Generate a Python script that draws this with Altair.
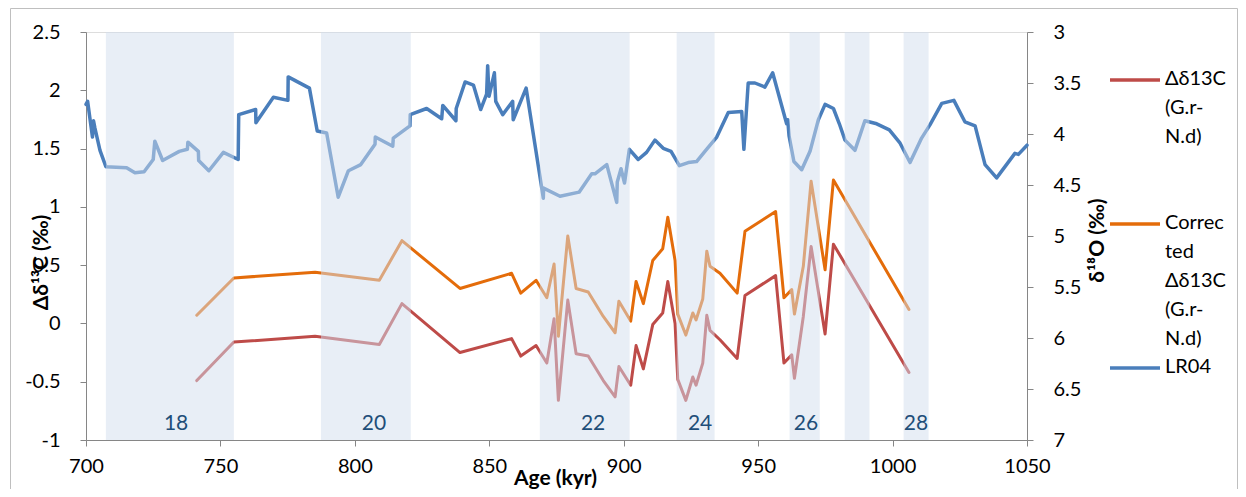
import altair as alt
import pandas as pd

# ---------------- data ----------------
# LR04 benthic d18O stack (right axis, reversed)
lr04_age = [700.0, 700.6, 702.4, 702.8, 703.3, 705.2, 707.4, 715.1, 718.2, 721.6,
            725.0, 725.6, 728.5, 731.2, 734.7, 737.7, 737.9, 741.8, 741.9, 745.7,
            751.1, 756.6, 756.8, 763.1, 763.2, 769.7, 775.1, 775.2, 783.1, 786.0,
            789.5, 793.8, 797.6, 802.2, 807.5, 807.6, 814.1, 814.3, 820.5, 820.6,
            826.7, 832.3, 832.7, 837.6, 837.7, 841.0, 844.1, 846.8, 849.0, 849.4,
            849.9, 851.9, 852.4, 855.0, 858.7, 858.9, 863.7, 870.1, 870.2, 876.3,
            883.4, 888.1, 889.3, 893.7, 897.4, 897.6, 899.0, 900.3, 902.1, 905.4,
            908.5, 911.6, 914.7, 917.6, 920.7, 924.0, 927.1, 930.2, 934.6, 938.9,
            943.9, 944.7, 946.3, 948.8, 952.5, 955.4, 960.6, 961.0, 961.5, 963.3,
            966.2, 969.3, 972.4, 974.9, 978.0, 980.2, 982.3, 986.0, 989.7, 994.1,
            998.8, 1002.8, 1006.5, 1010.8, 1013.9, 1018.3, 1022.8, 1026.9, 1030.7, 1034.4,
            1038.7, 1045.5, 1046.8, 1050.0]
lr04_d18o = [3.71, 3.68, 4.03, 3.87, 3.94, 4.16, 4.32, 4.33, 4.38, 4.37,
             4.25, 4.07, 4.26, 4.22, 4.17, 4.15, 4.08, 4.17, 4.26, 4.36,
             4.18, 4.25, 3.81, 3.76, 3.89, 3.64, 3.67, 3.44, 3.55, 3.97,
             3.99, 4.62, 4.36, 4.30, 4.10, 4.03, 4.12, 4.04, 3.92, 3.81,
             3.75, 3.85, 3.72, 3.87, 3.75, 3.49, 3.52, 3.76, 3.61, 3.33,
             3.63, 3.40, 3.68, 3.81, 3.68, 3.86, 3.55, 4.63, 4.53, 4.61,
             4.57, 4.39, 4.39, 4.30, 4.67, 4.47, 4.34, 4.48, 4.15, 4.25,
             4.18, 4.06, 4.14, 4.17, 4.31, 4.28, 4.27, 4.17, 4.03, 3.79,
             3.78, 4.15, 3.50, 3.50, 3.54, 3.40, 3.90, 3.86, 4.02, 4.27,
             4.35, 4.17, 3.86, 3.71, 3.75, 3.90, 4.06, 4.16, 3.87, 3.90,
             3.96, 4.09, 4.28, 4.04, 3.91, 3.70, 3.67, 3.88, 3.92, 4.30,
             4.43, 4.19, 4.20, 4.11]

# delta d13C (G.r - N.d) and corrected series (left axis)
c13_age = [741.2, 755.0, 785.2, 809.1, 817.5, 839.1, 858.3, 861.7, 867.4, 871.4,
           874.1, 875.7, 879.2, 882.3, 886.8, 892.4, 896.8, 898.2, 902.6, 904.6,
           907.3, 910.8, 914.5, 916.4, 919.1, 920.1, 923.1, 925.7, 926.9, 929.4,
           930.9, 932.1, 935.8, 942.2, 945.1, 956.5, 959.6, 962.5, 963.5, 966.8,
           969.7, 974.9, 978.0, 1006.1]
d13c = [-0.49, -0.16, -0.11, -0.18, 0.17, -0.25, -0.13, -0.28, -0.19, -0.34,
        0.04, -0.66, 0.20, -0.26, -0.28, -0.49, -0.63, -0.37, -0.53, -0.19,
        -0.39, -0.01, 0.09, 0.36, 0.00, -0.48, -0.66, -0.46, -0.53, -0.34,
        0.07, -0.06, -0.14, -0.30, 0.24, 0.41, -0.34, -0.27, -0.47, 0.06,
        0.66, -0.09, 0.68, -0.42]
corr_d13c = [0.07, 0.39, 0.44, 0.37, 0.71, 0.30, 0.43, 0.26, 0.37, 0.22,
             0.51, -0.11, 0.75, 0.30, 0.27, 0.06, -0.08, 0.19, 0.02, 0.36,
             0.17, 0.54, 0.64, 0.91, 0.54, 0.08, -0.10, 0.09, 0.03, 0.21,
             0.62, 0.49, 0.43, 0.26, 0.79, 0.96, 0.22, 0.29, 0.08, 0.49,
             1.22, 0.46, 1.23, 0.12]

# glacial (MIS) bands
band_start = [707.4, 787.4, 868.8, 919.7, 961.7, 982.2, 1004.1]
band_end = [755.0, 820.8, 902.2, 933.8, 972.9, 991.4, 1013.4]
band_label_age = [733.5, 807.1, 888.6, 928.4, 967.8, 1008.7]
band_label = ["18", "20", "22", "24", "26", "28"]

series_names = ["Δδ13C (G.r-N.d)", "Corrected Δδ13C (G.r-N.d)", "LR04"]
legend_text = ["Δδ13C\n(G.r-\nN.d)", "Correc\nted\nΔδ13C\n(G.r-\nN.d)", "LR04"]
series_colors = ["#BE4B48", "#E46C0A", "#4A7EBB"]

# ---------------- tables ----------------
c13_df = pd.concat([
    pd.DataFrame({"age": c13_age, "value": d13c, "series": series_names[0]}),
    pd.DataFrame({"age": c13_age, "value": corr_d13c, "series": series_names[1]}),
], ignore_index=True)
lr_df = pd.DataFrame({"age": lr04_age, "d18o": lr04_d18o,
                      "idx": list(range(len(lr04_age)))})
band_df = pd.DataFrame({"start": band_start, "end": band_end})
blab_df = pd.DataFrame({"age": band_label_age, "label": band_label})

W, H = 941, 408
FONT = "Lato"
AXC = "#868686"

xscale = alt.Scale(domain=[700, 1050], nice=False, zero=False)
xaxis = alt.Axis(values=list(range(700, 1051, 50)), labelExpr="datum.value + ''",
                 title="Age (kyr)", titleFontWeight="bold", titleFontSize=21,
                 titleX=469, titleY=38, titleBaseline="middle", titleAlign="center",
                 grid=False, domainColor=AXC, tickColor=AXC, tickSize=6,
                 labelPadding=10, labelFontSize=20, labelFont=FONT, labelFlush=False,
                 labelOverlap=False,
                 titleFont=FONT, labelColor="black", titleColor="black")


def X(field):
    return alt.X(field, scale=xscale, axis=xaxis)


left_axis = alt.Axis(orient="left", values=[-1, -0.5, 0, 0.5, 1, 1.5, 2, 2.5],
                     labelExpr="datum.value + ''", title="Δδ¹³C (‰)",
                     titleFontWeight="bold", titleFontSize=21, titleAngle=270,
                     titleX=-45, titleY=230, titleAlign="center", titleBaseline="middle",
                     grid=False, domainColor=AXC, tickColor=AXC, tickSize=6,
                     labelPadding=20, labelFontSize=20, labelFont=FONT, titleFont=FONT,
                     labelFlush=False, labelOverlap=False,
                     labelColor="black", titleColor="black")

right_axis = alt.Axis(orient="right", values=[3, 3.5, 4, 4.5, 5, 5.5, 6, 6.5, 7],
                      labelExpr="datum.value + ''", title="δ¹⁸O (‰)",
                      titleFontWeight="bold", titleFontSize=21, titleAngle=270,
                      titleX=70, titleY=208, titleAlign="center", titleBaseline="middle",
                      grid=False, domainColor=AXC, tickColor=AXC, tickSize=6,
                      labelPadding=20, labelFontSize=20, labelFont=FONT, titleFont=FONT,
                      labelFlush=False, labelOverlap=False,
                      labelColor="black", titleColor="black")

c13_lines = alt.Chart(c13_df).mark_line(strokeWidth=3, strokeJoin="round", strokeCap="round").encode(
    x=X("age:Q"),
    y=alt.Y("value:Q", scale=alt.Scale(domain=[-1, 2.5], nice=False, zero=False), axis=left_axis),
    color=alt.Color("series:N", scale=alt.Scale(domain=series_names[:2], range=series_colors[:2]),
                    legend=None),
    detail="series:N",
)

lr_line = alt.Chart(lr_df).mark_line(strokeWidth=3.5, strokeJoin="round", strokeCap="round",
                                     color=series_colors[2]).encode(
    x=X("age:Q"),
    y=alt.Y("d18o:Q", scale=alt.Scale(domain=[3, 7], reverse=True, nice=False, zero=False),
            axis=right_axis),
    order="idx:Q",
)

bands = alt.Chart(band_df).mark_rect(color="#D2DDED", opacity=0.5).encode(
    x=X("start:Q"),
    x2="end:Q",
)

band_text = alt.Chart(blab_df).mark_text(fontSize=21, font=FONT, color="#1F4E79",
                                         baseline="middle", align="center").encode(
    x=X("age:Q"),
    y=alt.value(392),
    text="label:N",
)

# legend (drawn manually to match the wrapped labels)
leg_layers = []
leg_y = [48, 192, 336]
for i in range(3):
    d = pd.DataFrame({"name": [legend_text[i]]})
    leg_layers.append(alt.Chart(d).mark_rule(color=series_colors[i], strokeWidth=3.5).encode(
        x=alt.value(1024), x2=alt.value(1074), y=alt.value(leg_y[i])))
    leg_layers.append(alt.Chart(d).mark_text(align="left", baseline="top", lineBreak="\n",
                                             lineHeight=29, fontSize=20, font=FONT,
                                             color="black").encode(
        x=alt.value(1079), y=alt.value(leg_y[i] - 11), text="name:N"))

frame = alt.Chart(pd.DataFrame({"name": ["frame"]})).mark_rect(
    fill=None, stroke="#BFBFBF", strokeWidth=1).encode(
    x=alt.value(-75.5), x2=alt.value(1151.5), y=alt.value(-23.5), y2=alt.value(480))

chart = alt.layer(c13_lines, lr_line, bands, band_text, *leg_layers, frame).resolve_scale(
    y="independent"
).properties(
    width=W, height=H,
    autosize=alt.AutoSizeParams(type="none"),
    padding={"left": 78, "top": 24, "right": 211, "bottom": 49},
).configure_view(stroke=None).configure(background="white")

chart.save("out.html", embed_options={"renderer": "svg", "actions": False})
